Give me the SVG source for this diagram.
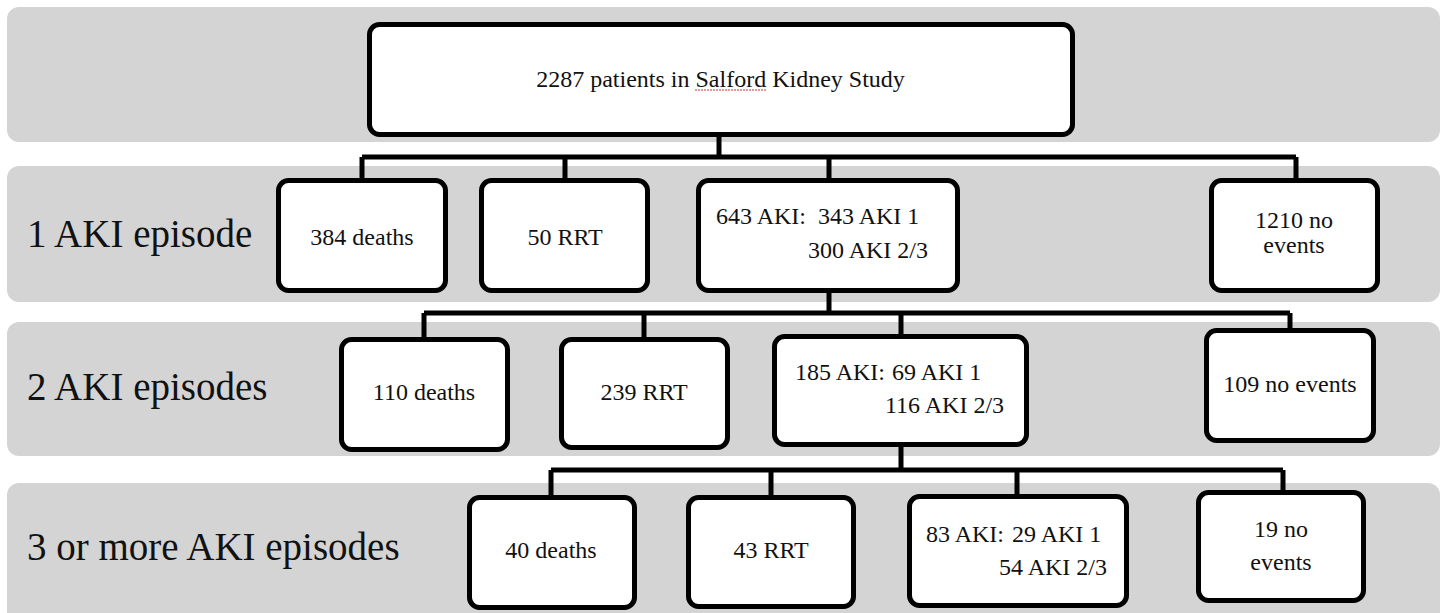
<svg xmlns="http://www.w3.org/2000/svg" width="1445" height="613" viewBox="0 0 1445 613">
<style>
.band{fill:#d4d4d4}
.box{fill:#fff;stroke:#000;stroke-width:5}
.t{font-family:"Liberation Serif","Times New Roman",serif;font-size:24px;fill:#111}
.c{text-anchor:middle}
.lab{font-family:"Liberation Serif","Times New Roman",serif;font-size:39px;fill:#111}
.con{fill:none;stroke:#000;stroke-width:5}
</style>
<rect width="1445" height="613" fill="#fff"/>
<g id="bands">
<rect class="band" x="7" y="7" width="1433" height="135" rx="12"/>
<rect class="band" x="7" y="166" width="1433" height="136" rx="12"/>
<rect class="band" x="7" y="322" width="1433" height="134" rx="12"/>
<rect class="band" x="7" y="483" width="1433" height="145" rx="12"/>
</g>
<g id="labels">
<text class="lab" x="27" y="247">1 AKI episode</text>
<text class="lab" x="27" y="400">2 AKI episodes</text>
<text class="lab" x="27" y="560">3 or more AKI episodes</text>
</g>
<g id="connectors">
<path class="con" d="M719 137V157M362 157H1296M362 157V180M565 157V180M829 157V180M1296 157V180"/>
<path class="con" d="M829 293V313M424 313H1290M424 313V339M644 313V339M901 313V336M1290 313V330"/>
<path class="con" d="M901 447V470M551 470H1283M551 470V497M771 470V497M1017 470V496M1283 470V492"/>
</g>
<g id="n-top">
<rect class="box" x="369.5" y="24.5" width="703" height="110" rx="10"/>
<text class="t c" x="720.5" y="87">2287 patients in Salford Kidney Study</text>
<line x1="695" y1="90" x2="766" y2="90" stroke="#d03030" stroke-width="1" stroke-dasharray="2 1"/>
</g>
<g id="n-1-deaths">
<rect class="box" x="278.5" y="180.5" width="167" height="110" rx="10"/>
<text class="t c" x="362" y="245">384 deaths</text>
</g>
<g id="n-1-rrt">
<rect class="box" x="481.5" y="180.5" width="166" height="110" rx="10"/>
<text class="t c" x="565" y="245">50 RRT</text>
</g>
<g id="n-1-aki">
<rect class="box" x="698.5" y="180.5" width="259" height="110" rx="10"/>
<text class="t" y="224"><tspan x="716">643 AKI:</tspan><tspan x="818">343 AKI 1</tspan></text>
<text class="t" x="808" y="258">300 AKI 2/3</text>
</g>
<g id="n-1-none">
<rect class="box" x="1211.5" y="180.5" width="166" height="110" rx="10"/>
<text class="t c" x="1294" y="228">1210 no</text>
<text class="t c" x="1294" y="253">events</text>
</g>
<g id="n-2-deaths">
<rect class="box" x="341.5" y="339.5" width="166" height="110" rx="10"/>
<text class="t c" x="424" y="400">110 deaths</text>
</g>
<g id="n-2-rrt">
<rect class="box" x="561.5" y="339.5" width="166" height="108" rx="10"/>
<text class="t c" x="644" y="400">239 RRT</text>
</g>
<g id="n-2-aki">
<rect class="box" x="774.5" y="336.5" width="252" height="108" rx="10"/>
<text class="t" y="380"><tspan x="795">185 AKI:</tspan><tspan x="892">69 AKI 1</tspan></text>
<text class="t" x="885" y="413">116 AKI 2/3</text>
</g>
<g id="n-2-none">
<rect class="box" x="1206.5" y="330.5" width="167" height="110" rx="10"/>
<text class="t c" x="1290" y="392">109 no events</text>
</g>
<g id="n-3-deaths">
<rect class="box" x="469.5" y="497.5" width="165" height="110" rx="10"/>
<text class="t c" x="551" y="558">40 deaths</text>
</g>
<g id="n-3-rrt">
<rect class="box" x="688.5" y="497.5" width="165" height="109" rx="10"/>
<text class="t c" x="771" y="558">43 RRT</text>
</g>
<g id="n-3-aki">
<rect class="box" x="909.5" y="496.5" width="217" height="109" rx="10"/>
<text class="t" y="542"><tspan x="926">83 AKI:</tspan><tspan x="1012">29 AKI 1</tspan></text>
<text class="t" x="999" y="575">54 AKI 2/3</text>
</g>
<g id="n-3-none">
<rect class="box" x="1198.5" y="492.5" width="165" height="108" rx="10"/>
<text class="t c" x="1281" y="537">19 no</text>
<text class="t c" x="1281" y="570">events</text>
</g>
</svg>
